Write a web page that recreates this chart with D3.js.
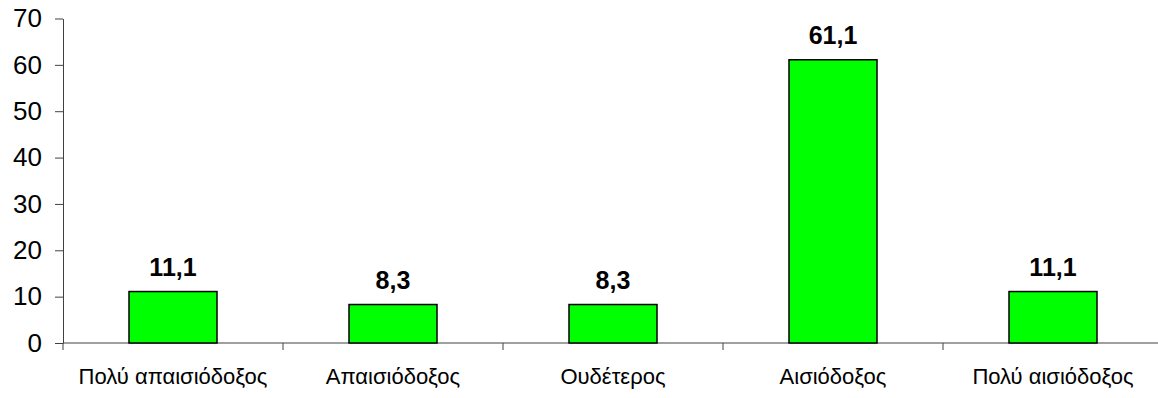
<!DOCTYPE html>
<html>
<head>
<meta charset="utf-8">
<script src="https://cdn.jsdelivr.net/npm/d3@7"></script>
<style>
  body { margin: 0; background: #fff; }
  text { font-family: "Liberation Sans", Arial, sans-serif; fill: #000; }
</style>
</head>
<body>
<script>
// chart data
var categories = ["Πολύ απαισιόδοξος", "Απαισιόδοξος", "Ουδέτερος", "Αισιόδοξος", "Πολύ αισιόδοξος"];
var values = [11.1, 8.3, 8.3, 61.1, 11.1];
var valueLabels = ["11,1", "8,3", "8,3", "61,1", "11,1"];
var yTicks = [0, 10, 20, 30, 40, 50, 60, 70];

var svgWidth = 1158;
var svgHeight = 398;

var svg = d3.select("body")
  .append("svg")
  .attr("width", svgWidth)
  .attr("height", svgHeight);

// scales
var x = d3.scaleBand()
  .domain(categories)
  .range([63, 1163])
  .paddingInner(0.6)
  .paddingOuter(0.3);

var y = d3.scaleLinear()
  .domain([0, 70])
  .range([343, 18.5]);

var axisColor = "#404040";

// y axis
var yAxis = svg.append("g")
  .attr("transform", "translate(63,0)")
  .call(d3.axisLeft(y).tickValues(yTicks).tickSize(8).tickSizeOuter(0).tickPadding(13));
yAxis.select(".domain").attr("stroke", axisColor);
yAxis.selectAll(".tick line").attr("stroke", axisColor);
yAxis.selectAll(".tick text")
  .attr("font-size", 26)
  .attr("font-family", "Liberation Sans, Arial, sans-serif")
  .attr("fill", "#000");

// x axis line and category separators
svg.append("line")
  .attr("x1", 63).attr("x2", svgWidth)
  .attr("y1", y(0)).attr("y2", y(0))
  .attr("stroke", axisColor);

var bounds = d3.range(categories.length + 1).map(function(i) {
  return x.range()[0] + i * x.step();
});
svg.selectAll(".sep")
  .data(bounds)
  .enter()
  .append("line")
  .attr("class", "sep")
  .attr("x1", function(d) { return d; })
  .attr("x2", function(d) { return d; })
  .attr("y1", y(0))
  .attr("y2", y(0) + 7)
  .attr("stroke", axisColor);

// bars
svg.selectAll(".bar")
  .data(values)
  .enter()
  .append("rect")
  .attr("class", "bar")
  .attr("x", function(d, i) { return x(categories[i]); })
  .attr("y", function(d) { return y(d); })
  .attr("width", x.bandwidth())
  .attr("height", function(d) { return y(0) - y(d); })
  .attr("fill", "#00ff00")
  .attr("stroke", "#000")
  .attr("stroke-width", 1.5);

// value labels
svg.selectAll(".val")
  .data(values)
  .enter()
  .append("text")
  .attr("class", "val")
  .attr("x", function(d, i) { return x(categories[i]) + x.bandwidth() / 2; })
  .attr("y", function(d) { return y(d) - 16; })
  .attr("text-anchor", "middle")
  .attr("font-size", 25)
  .attr("font-weight", "bold")
  .text(function(d, i) { return valueLabels[i]; });

// category labels
svg.selectAll(".cat")
  .data(categories)
  .enter()
  .append("text")
  .attr("class", "cat")
  .attr("x", function(d) { return x(d) + x.bandwidth() / 2; })
  .attr("y", 384)
  .attr("text-anchor", "middle")
  .attr("font-size", 22)
  .text(function(d) { return d; });
</script>
</body>
</html>
